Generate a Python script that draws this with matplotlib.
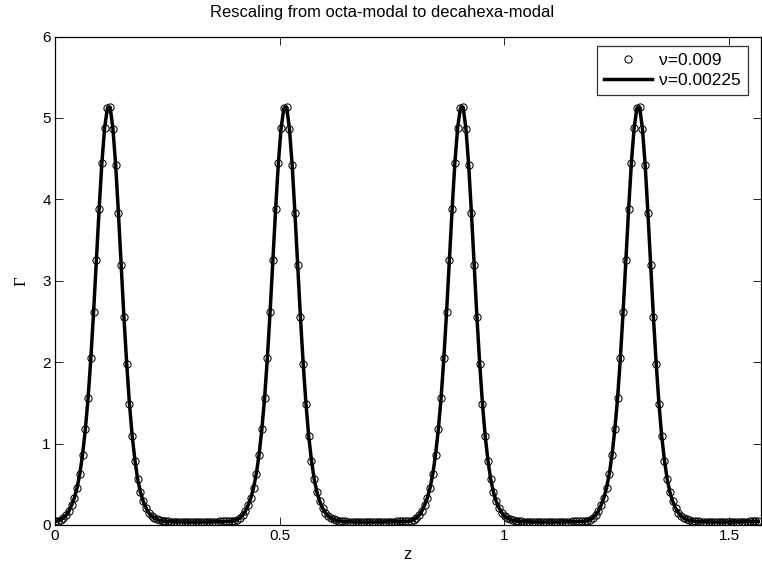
import numpy as np
import matplotlib
matplotlib.use("Agg")
import matplotlib.pyplot as plt

# ---- data (one period of the profile; the 4 peaks are identical) ----
gamma_period = [0.045, 0.05, 0.065, 0.085, 0.12, 0.17, 0.24, 0.33, 0.457, 0.63,
                0.865, 1.175, 1.56, 2.05, 2.62, 3.25, 3.88, 4.45, 4.88, 5.12,
                5.13, 4.87, 4.42, 3.83, 3.19, 2.55, 1.98, 1.49, 1.09, 0.79,
                0.56, 0.40, 0.29, 0.21, 0.15, 0.11, 0.085, 0.068, 0.057, 0.05,
                0.046, 0.043, 0.041, 0.04, 0.039, 0.038, 0.037, 0.037, 0.036, 0.036,
                0.036, 0.036, 0.036, 0.037, 0.037, 0.038, 0.039, 0.04, 0.041, 0.042,
                0.043, 0.044, 0.045, 0.045]
n_periods = 4
gamma_coarse = np.array(gamma_period * n_periods)   # nu = 0.009 (circles)
gamma_fine = np.array(gamma_period * n_periods)     # nu = 0.00225 (line)
z = np.linspace(0, np.pi / 2, len(gamma_coarse), endpoint=False)

labels = ["\u03bd=0.009", "\u03bd=0.00225"]
xticks = [0, 0.5, 1, 1.5]
xticklabels = ["0", "0.5", "1", "1.5"]
yticks = [0, 1, 2, 3, 4, 5, 6]

plt.rcParams['font.family'] = ['Liberation Sans', 'DejaVu Sans']

W, H = 762, 566
fig = plt.figure(figsize=(W / 100, H / 100), dpi=100)
L, R, T, B = 55, 761, 36.5, 525
ax = fig.add_axes([L / W, 1 - B / H, (R - L) / W, (B - T) / H])

ax.plot(z, gamma_coarse, linestyle='none', marker='o', markersize=5.2,
        markerfacecolor='none', markeredgecolor='black', markeredgewidth=0.75,
        label=labels[0], zorder=3)
ax.plot(z, gamma_fine, color='black', linewidth=2.5, label=labels[1], zorder=2)

ax.set_xlim(0, np.pi / 2)
ax.set_ylim(0, 6)
ax.set_xticks(xticks)
ax.set_xticklabels(xticklabels)
ax.set_yticks(yticks)
ax.tick_params(direction='in', length=5.5, width=0.6, top=True, right=True,
               labelsize=11, pad=3)
for s in ax.spines.values():
    s.set_linewidth(0.9)

ax.set_xlabel("z", fontsize=12, labelpad=3)
ax.set_ylabel("\u0393", fontsize=12, family=['Liberation Serif'], labelpad=9)

fig.text(382 / W, 1 - 13 / H, "Rescaling from octa-modal to decahexa-modal",
         ha='center', va='center', fontsize=11.9)

leg = ax.legend(loc='upper right', bbox_to_anchor=((748 - L) / (R - L), (B - 46) / (B - T)),
                borderaxespad=0, fontsize=12.5, frameon=True, fancybox=False,
                handlelength=2.8, handletextpad=0.4, borderpad=0.4, labelspacing=0.28)
leg.get_frame().set_edgecolor('black')
leg.get_frame().set_linewidth(0.9)

fig.savefig("out.png", dpi=100)
